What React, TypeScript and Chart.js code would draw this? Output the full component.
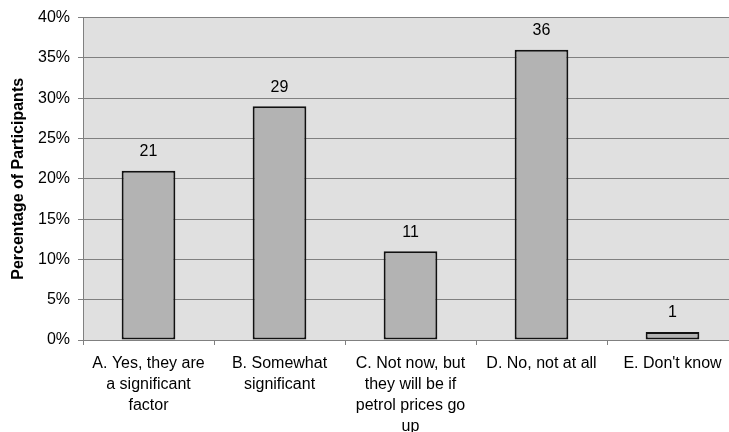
import React, { useEffect, useRef } from "react";
import { Chart, registerables } from "chart.js";

Chart.register(...registerables);

const categories: string[][] = [
  ["A. Yes, they are", "a significant", "factor"],
  ["B. Somewhat", "significant"],
  ["C. Not now, but", "they will be if", "petrol prices go", "up"],
  ["D. No, not at all"],
  ["E. Don't know"],
];
const values: number[] = [21, 29, 11, 36, 1];
const valueLabels: string[] = ["21", "29", "11", "36", "1"];
const yTicks: number[] = [0, 5, 10, 15, 20, 25, 30, 35, 40];
const yTitle = "Percentage of Participants";

const FONT = "'Liberation Sans', Arial, sans-serif";

export default function App() {
  const ref = useRef<HTMLCanvasElement | null>(null);

  useEffect(() => {
    if (!ref.current) return;
    const bgPlugin = {
      id: "plotBg",
      beforeDraw(chart: any) {
        const { ctx, chartArea } = chart;
        ctx.save();
        ctx.fillStyle = "#e0e0e0";
        ctx.fillRect(chartArea.left, chartArea.top, chartArea.right - chartArea.left, chartArea.bottom - chartArea.top);
        ctx.restore();
      },
    };
    const labelPlugin = {
      id: "valLabels",
      afterDatasetsDraw(chart: any) {
        const { ctx } = chart;
        const meta = chart.getDatasetMeta(0);
        ctx.save();
        ctx.font = `16px ${FONT}`;
        ctx.fillStyle = "#000";
        ctx.textAlign = "center";
        ctx.textBaseline = "middle";
        meta.data.forEach((el: any, i: number) => {
          ctx.fillText(valueLabels[i], el.x, el.y - 19);
        });
        ctx.restore();
      },
    };
    const chart = new Chart(ref.current, {
      type: "bar",
      data: {
        labels: categories,
        datasets: [
          {
            data: values,
            backgroundColor: "#b3b3b3",
            borderColor: "#111111",
            borderWidth: 2,
            borderSkipped: false,
            barPercentage: 0.41,
            categoryPercentage: 1,
          },
        ],
      },
      options: {
        animation: false,
        responsive: false,
        maintainAspectRatio: false,
        layout: { padding: { top: 16, right: 2, left: 0, bottom: 0 } },
        plugins: { legend: { display: false }, tooltip: { enabled: false } },
        scales: {
          x: {
            offset: true,
            afterFit(scale: any) {
              scale.height = 92;
            },
            grid: {
              offset: true,
              drawOnChartArea: false,
              drawTicks: true,
              tickLength: 5,
              color: "#808080",
            },
            border: { display: true, color: "#808080", width: 1 },
            ticks: {
              color: "#000",
              font: { family: FONT, size: 16, lineHeight: 1.3125 },
              padding: 8,
              maxRotation: 0,
              autoSkip: false,
            },
          },
          y: {
            min: 0,
            max: 40,
            afterFit(scale: any) {
              scale.width = 83;
            },
            afterBuildTicks(scale: any) {
              scale.ticks = yTicks.map((v) => ({ value: v }));
            },
            grid: {
              color: "#808080",
              lineWidth: 1,
              drawTicks: true,
              tickLength: 5,
            },
            border: { display: true, color: "#808080", width: 1 },
            ticks: {
              color: "#000",
              font: { family: FONT, size: 16 },
              padding: 8,
              callback: (v: any) => `${v}%`,
            },
            title: {
              display: true,
              text: yTitle,
              color: "#000",
              font: { family: FONT, size: 16, weight: "bold" },
              padding: { top: 9, bottom: 4 },
            },
          },
        },
      },
      plugins: [bgPlugin, labelPlugin],
    });
    return () => chart.destroy();
  }, []);

  return (
    <div style={{ position: "fixed", left: 0, top: 0, width: 729, height: 432, overflow: "hidden", background: "#fff" }}>
      <canvas ref={ref} width={740} height={432} style={{ width: 740, height: 432, display: "block" }} />
    </div>
  );
}
